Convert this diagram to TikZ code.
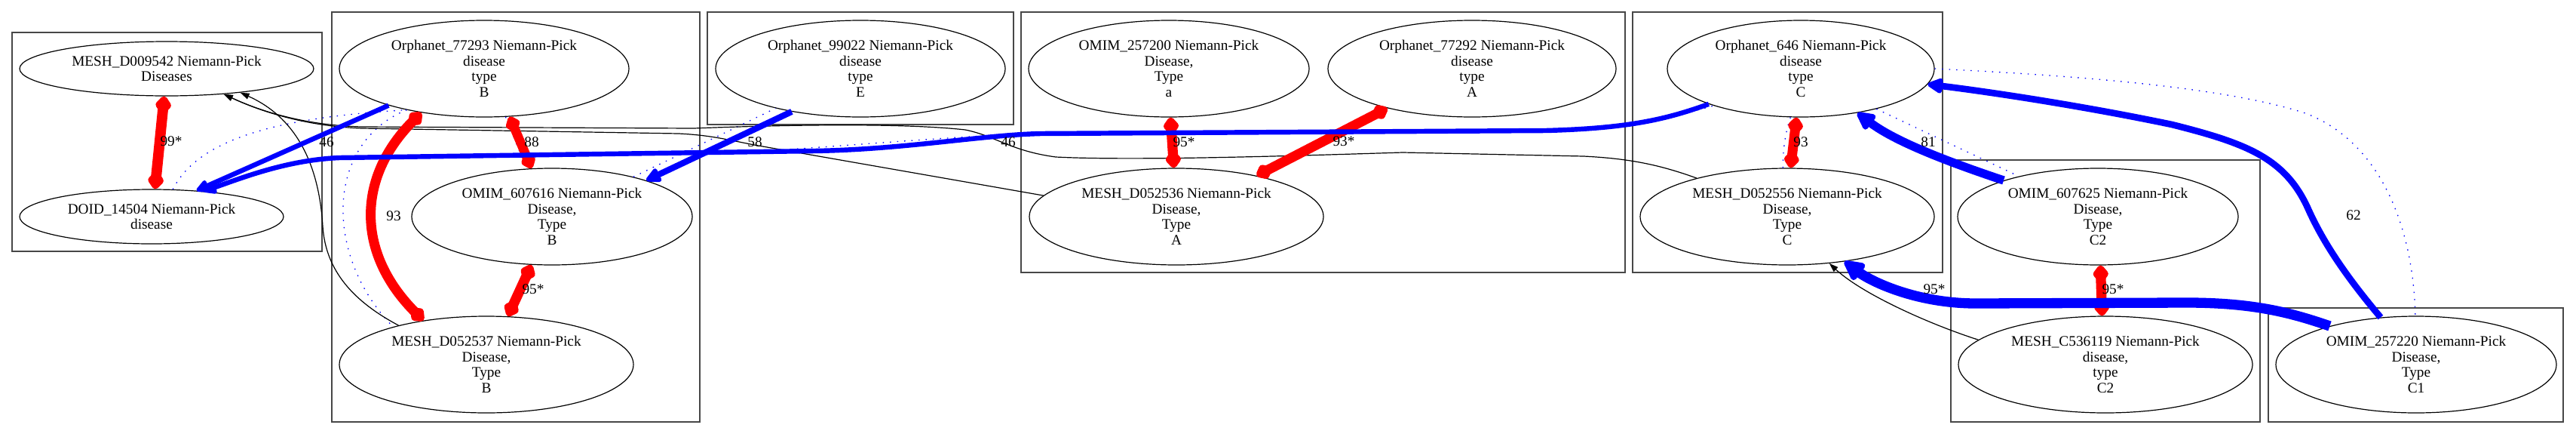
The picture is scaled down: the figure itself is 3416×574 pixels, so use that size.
\documentclass[tikz,border=0pt]{standalone}
\usepackage{fontspec}
\setmainfont{Liberation Serif}
\usetikzlibrary{arrows.meta,shapes.geometric}
\colorlet{simred}{red}
\colorlet{simblue}{blue}
\colorlet{clustergray}{black!72}
\tikzset{
  redend/.tip={Diamond[length=12pt 1.2,width=8pt 1.1,round]},
  blueend/.tip={Triangle[length=10pt 1.6,width=8pt 1.6,round]},
  blackend/.tip={Triangle[length=12pt,width=8pt]},
}

\begin{document}
\begin{tikzpicture}[x=1pt,y=-1pt,
  every node/.style={font=\fontsize{19.3}{20.5}\selectfont},
  dis/.style 2 args={ellipse,draw,line width=1.2pt,inner sep=0pt,align=center,minimum width=#1pt,minimum height=#2pt},
  lbl/.style={inner sep=0pt},
  clusterbox/.style={draw=clustergray,line width=1.6pt},
  score/.style={line width=0.14pt*#1}]
  \path[use as bounding box,fill=white] (0,0) rectangle (3416,574);
  \foreach \xa/\ya/\xb/\yb in {16/43/427/333,440/16/928/559,938/16/1344/165,1354/16/2155/361,
                               2165/16/2576/361,2587/212/2997/559,3008/408/3399/559}
    \draw[clusterbox] (\xa,\ya) rectangle (\xb,\yb);

  \node[dis={390}{72}]  (mesh9542)   at (221,91)   {MESH\_D009542 Niemann-Pick\\Diseases};
  \node[dis={350}{72}]  (doid14504)  at (201,287)  {DOID\_14504 Niemann-Pick\\disease};
  \node[dis={384}{128}] (orph77293)  at (642,91)   {Orphanet\_77293 Niemann-Pick\\disease\\type\\B};
  \node[dis={372}{128}] (omim607616) at (732,287)  {OMIM\_607616 Niemann-Pick\\Disease,\\Type\\B};
  \node[dis={390}{128}] (mesh52537)  at (645,483)  {MESH\_D052537 Niemann-Pick\\Disease,\\Type\\B};
  \node[dis={384}{128}] (orph99022)  at (1141,91)  {Orphanet\_99022 Niemann-Pick\\disease\\type\\E};
  \node[dis={372}{128}] (omim257200) at (1550,91)  {OMIM\_257200 Niemann-Pick\\Disease,\\Type\\a};
  \node[dis={382}{128}] (orph77292)  at (1952,91)  {Orphanet\_77292 Niemann-Pick\\disease\\type\\A};
  \node[dis={390}{128}] (mesh52536)  at (1560,287) {MESH\_D052536 Niemann-Pick\\Disease,\\Type\\A};
  \node[dis={354}{128}] (orph646)    at (2388,91)  {Orphanet\_646 Niemann-Pick\\disease\\type\\C};
  \node[dis={390}{128}] (mesh52556)  at (2370,287) {MESH\_D052556 Niemann-Pick\\Disease,\\Type\\C};
  \node[dis={372}{128}] (omim607625) at (2782,287) {OMIM\_607625 Niemann-Pick\\Disease,\\Type\\C2};
  \node[dis={390}{128}] (mesh536119) at (2792,483) {MESH\_C536119 Niemann-Pick\\disease,\\type\\C2};
  \node[dis={372}{128}] (omim257220) at (3204,483) {OMIM\_257220 Niemann-Pick\\Disease,\\Type\\C1};

  % dotted pairs first, the thick ones go over them
  \scope[every path/.append style={draw,simblue,line width=1.3pt,dash pattern=on 1.5pt off 8pt}]
  \path (doid14504.52) .. controls (265,180) and (380,155) .. (orph77293.208);
  \path (doid14504.28) .. controls (320,232) and (380,214) .. (450,208) -- (1030,199)
        .. controls (1150,191) and (1250,182) .. (1380,176) -- (2050,172)
        .. controls (2160,169) and (2210,157) .. (orph646.203);
  \path (orph77293.208) .. controls (430,190) and (430,340) .. (mesh52537.158);
  \path (orph77293.294) -- (omim607616.118);
  \path (omim607616.26) -- (orph99022.205);
  \path (orph646.258) .. controls (2366,180) and (2364,205) .. (mesh52556.95);
  \path (orph646.332) -- (omim607625.153);
  \path (orph646.0) .. controls (2750,100) and (2950,115) .. (3057,150)
        .. controls (3150,185) and (3200,290) .. (omim257220.91);
  \endscope

  \scope[every path/.append style={draw,line width=1.2pt,-blackend}]
  \path (mesh52537.156) .. controls (470,400) and (432,360) .. (428,300)
        .. controls (422,200) and (380,150) .. (mesh9542.342);
  \path (mesh52536.171) -- (1000,192) .. controls (960,184) and (940,179) .. (900,177) -- (480,170)
        .. controls (400,167) and (340,145) .. (mesh9542.336);
  \path (mesh52556.157) .. controls (2200,218) and (2160,210) .. (2100,207) -- (1860,202)
        .. controls (1700,207) and (1500,213) .. (1400,208) .. controls (1340,200) and (1320,180) .. (1280,172)
        .. controls (1200,163) and (1050,165) .. (920,170) -- (480,168)
        .. controls (400,166) and (340,145) .. (mesh9542.336);
  \path (mesh536119.169) .. controls (2560,430) and (2470,390) .. (mesh52556.312);
  \endscope

  \scope[every path/.append style={draw,simred,redend-redend}]
  \foreach \a/\p/\b/\q/\s in {mesh9542/265/doid14504/83/99,orph77293/298/omim607616/113/88,
      omim607616/247/mesh52537/66/95,omim257200/272/mesh52536/93/95,orph77292/205/mesh52536/27/93,
      orph646/265/mesh52556/86/93,omim607625/273/mesh536119/94/95}
    \path[score=\s] (\a.\p) -- (\b.\q);
  \path[score=93] (orph77293.215) .. controls (472,235) and (472,336) .. (mesh52537.145);
  \endscope

  \scope[every path/.append style={draw,simblue,-blueend}]
  \path[score=46] (orph77293.201) -- (doid14504.30);
  \path[score=46] (orph646.201) .. controls (2210,158) and (2160,170) .. (2050,173) -- (1380,177)
        .. controls (1300,179) and (1200,198) .. (1080,200) -- (450,209)
        .. controls (380,212) and (320,236) .. (doid14504.26);
  \path[score=58] (orph99022.212) -- (omim607616.21);
  \path[score=81] (omim607625.159) .. controls (2570,210) and (2510,185) .. (orph646.322);
  \path[score=95] (omim257220.156) .. controls (3040,415) and (2990,401) .. (2900,401) -- (2620,402)
        .. controls (2540,402) and (2480,372) .. (mesh52556.322);
  \path[score=62] (omim257220.127) .. controls (3110,365) and (3080,320) .. (3060,275)
        .. controls (3030,210) and (2980,190) .. (2880,165)
        .. controls (2760,140) and (2640,122) .. (orph646.353);
  \endscope

  \foreach \t/\x/\y [count=\i] in {99*/227/187,46/433/188,93/522/286,88/705/188,95*/707/383,
      58/1001/188,46/1337/188,95*/1570/188,93*/1782/187,93/2388/188,81/2557/188,
      95*/2565/383,95*/2802/383,62/3121/285}
    \node[lbl] (lab\i) at (\x,\y) {\t};
\end{tikzpicture}
\end{document}
